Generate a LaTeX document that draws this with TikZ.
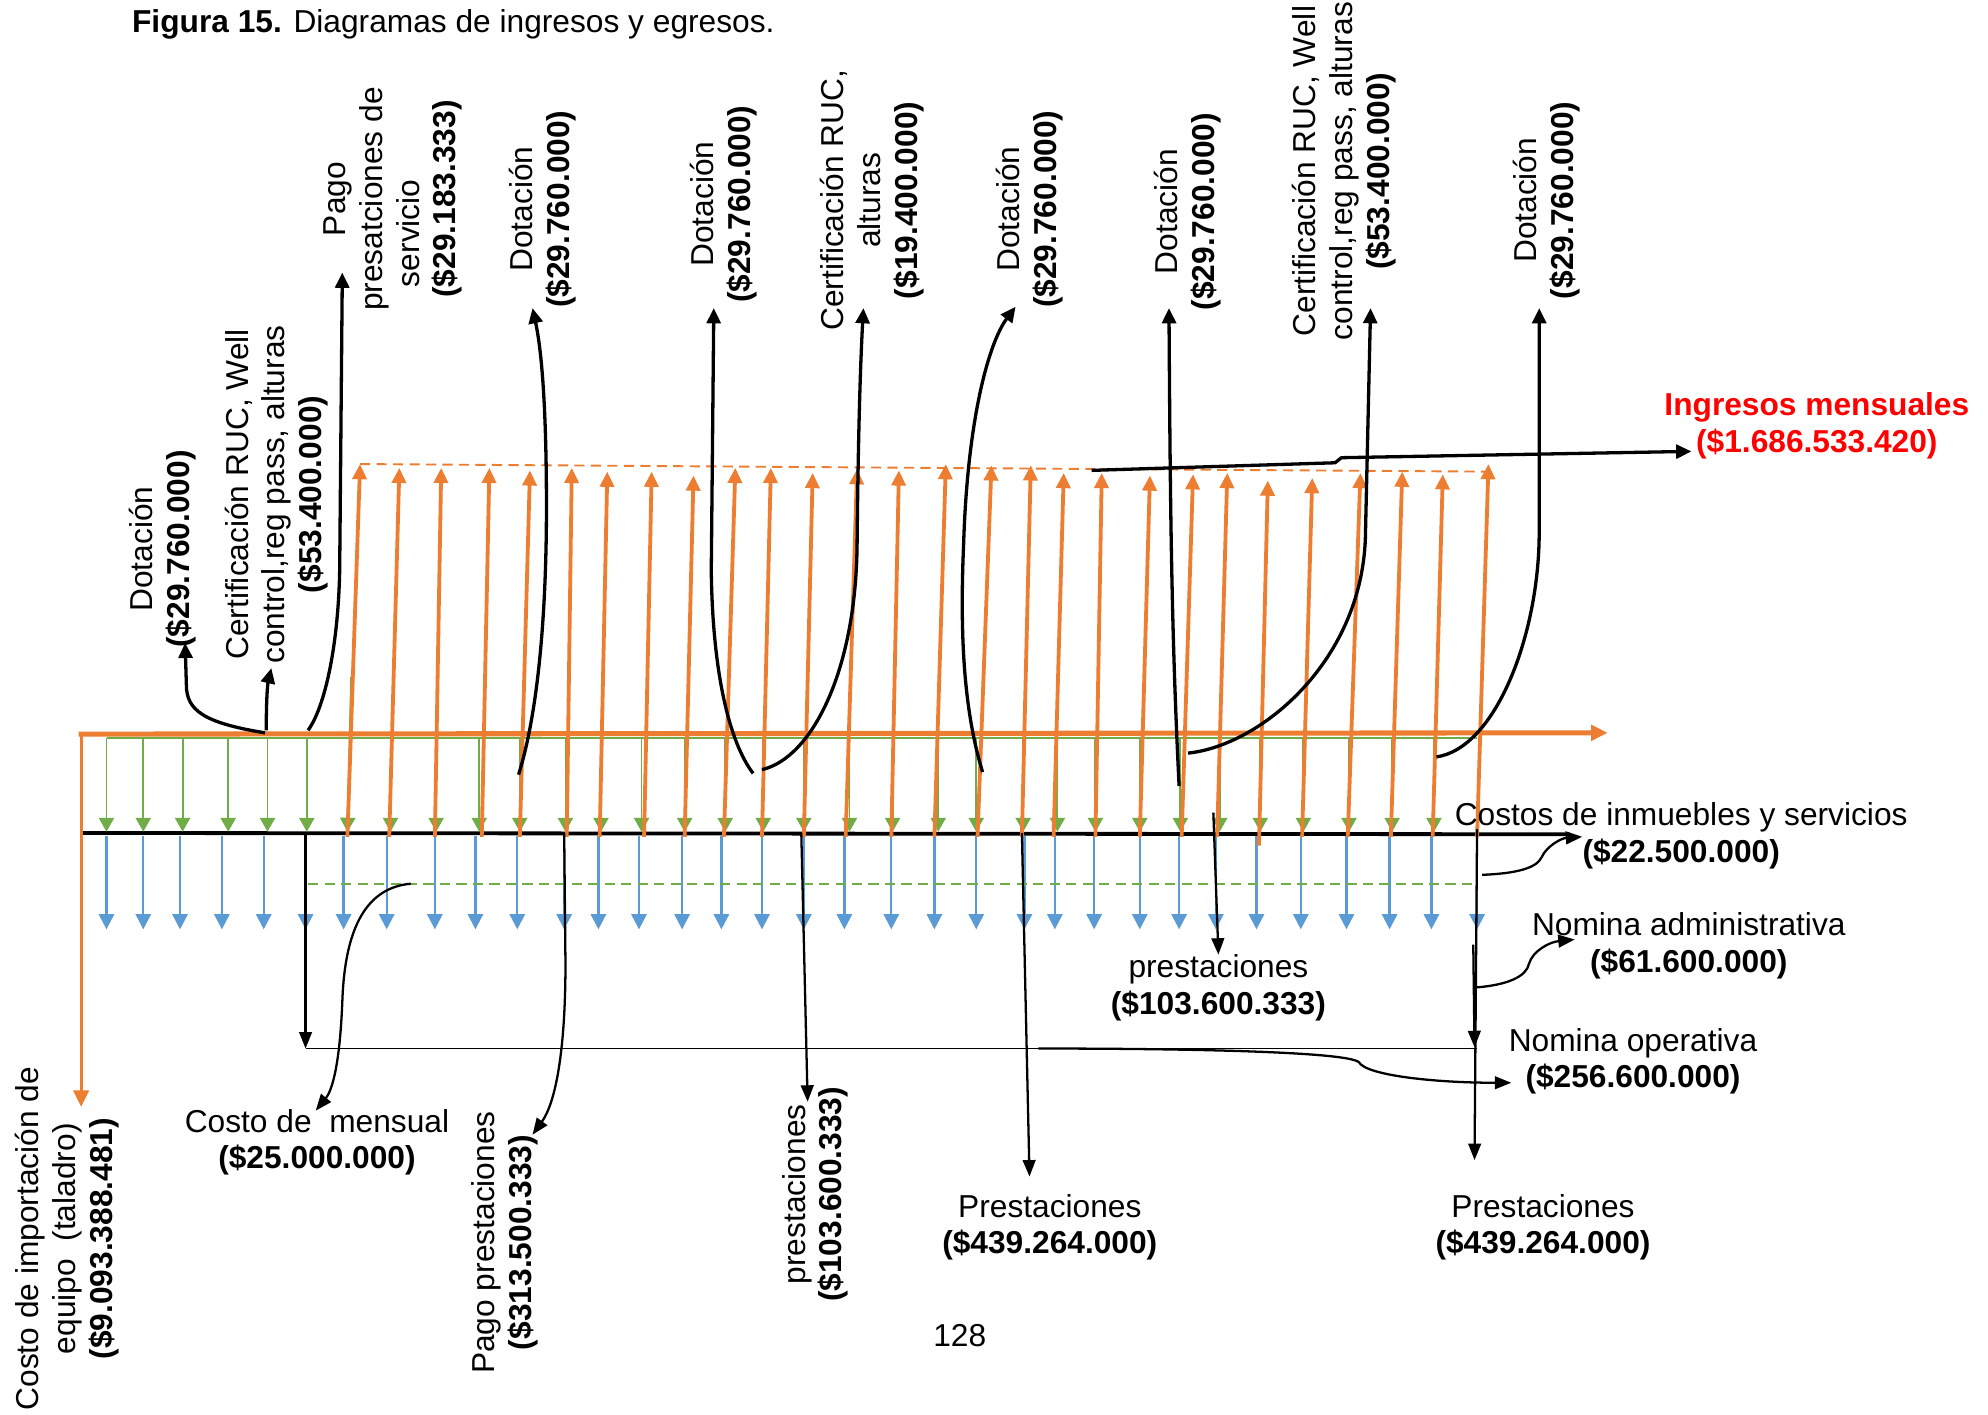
\documentclass[tikz,border=0pt]{standalone}
\usepackage{fontspec}
\setmainfont{Liberation Sans}
\usetikzlibrary{arrows.meta}
\definecolor{ora}{HTML}{ED7D31}
\definecolor{blu}{HTML}{5B9BD5}
\definecolor{grn}{HTML}{70AD47}
\begin{document}
\begin{tikzpicture}[x=1pt,y=-1pt,
  every node/.style={inner sep=0pt, font=\fontsize{25}{29}\selectfont, align=center},
  vlab/.style={rotate=90},
  oarr/.style={ora, line width=3pt, -{Triangle[width=11pt,length=12pt]}},
  barr/.style={blu, line width=1.8pt, -{Triangle[width=12pt,length=12pt]}},
  garr/.style={grn, line width=1.5pt, -{Triangle[width=12pt,length=11pt]}},
  karr/.style={black, line width=2.6pt, -{Triangle[width=11pt,length=12pt]}},
  tarr/.style={black, line width=1.8pt, -{Triangle[width=10pt,length=13pt]}},
]
\useasboundingbox[fill=white] (0,0) rectangle (1568,1116);

% ---------- axes ----------
\draw[black, line width=3pt] (64,657) -- (1238,658);
\draw[grn, line width=1.5pt] (84,582) -- (1165,582);
\foreach \x in {84,113,142,175,208,241,271,305,343,375,408,445,472,504,538,569,601,634,666,703,737,770,808,832,863,899,930,959,991,1026,1062,1096,1129,1165}
  \draw[barr] (\x,659) -- (\x,733);
\foreach \x in {84,113,144,180,211,242,308,344,378,410,446,474,506,540,572,602,634,670,704,740,770,807,834,864,899,931,962,994,1028,1064,1098,1131}
  \draw[garr] (\x,582) -- (\x,656);
\draw[garr] (277,534) -- (274,656);
\foreach \a/\b/\t/\s in {274/284/366/660,307/315/369/660,343/348/369/660,380/386/369/660,410/418/371/660,447/451/369/660,473/479/372/660,508/514/372/660,540/547/375/660,571/580/369/660,601/608/369/660,634/641/373/660,667/676/370/660,703/709/371/660,737/746/366/660,771/782/367/660,806/813/367/660,831/839/373/660,864/869/373/660,899/907/375/660,932/941/374/660,960/968/373/660,993/1000/379/667,1027/1035/377/660,1063/1073/373/660,1097/1106/372/660,1130/1138/374/660,1165/1174/366/660}
  \draw[oarr] (\a,\s) -- (\b,\t);
\draw[ora, line width=4pt, -{Triangle[width=12pt,length=13pt]}] (62,579) -- (1268,578);
\draw[ora, line width=2.5pt, -{Triangle[width=12pt,length=13pt]}] (64,577) -- (64,873);
\draw[ora, line width=1.5pt, dash pattern=on 8pt off 5pt] (284,366) -- (1174,372);
\draw[grn, line width=1.5pt, dash pattern=on 8pt off 5pt] (243,697) -- (1165,697);
\draw[black, line width=1.5pt] (241,827) -- (1165,827);

% ---------- labels (top, rotated) ----------
\node[vlab] (r1) at (128,433) {Dotación\\\textbf{(\$29.760.000)}};
\node[vlab] (r2) at (218,390) {Certificación RUC, Well\\control,reg pass, alturas\\\textbf{(\$53.400.000)}};
\node[vlab] (r3) at (310,157) {Pago\\presatciones de\\servicio\kern54pt\\\textbf{(\$29.183.333)}};
\node[vlab] (r4) at (428,165) {Dotación\\\textbf{(\$29.760.000)}};
\node[vlab] (r5) at (571,161) {Dotación\\\textbf{(\$29.760.000)}};
\node[vlab] (r6) at (688,158) {Certificación RUC,\\alturas\\\textbf{(\$19.400.000)}};
\node[vlab] (r7) at (812,165) {Dotación\\\textbf{(\$29.760.000)}};
\node[vlab] (r8) at (937,167) {Dotación\\\textbf{(\$29.760.000)}};
\node[vlab] (r9) at (1060,135) {Certificación RUC, Well\\control,reg pass, alturas\\\textbf{(\$53.400.000)}};
\node[vlab] (r10) at (1220,158) {Dotación\\\textbf{(\$29.760.000)}};
\node[text=red, font=\fontsize{25}{29}\selectfont\bfseries] (ing) at (1433,336) {Ingresos mensuales\\(\$1.686.533.420)};

% ---------- labels (bottom) ----------
\node (cim) at (1326,659) {Costos de inmuebles y servicios\\\textbf{(\$22.500.000)}};
\node (nad) at (1332,746) {Nomina administrativa\\\textbf{(\$61.600.000)}};
\node (nop) at (1288,837) {Nomina operativa\\\textbf{(\$256.600.000)}};
\node (pm) at (961,779) {prestaciones\\\textbf{(\$103.600.333)}};
\node (pl) at (828,968) {Prestaciones\\\textbf{(\$439.264.000)}};
\node (pr) at (1217,968) {Prestaciones\\\textbf{(\$439.264.000)}};
\node (cm) at (250,901) {Costo de\ \ mensual\\\textbf{(\$25.000.000)}};
\node[vlab] (ci) at (53,977) {Costo de importación de\\equipo\ \ (taladro)\\\textbf{(\$9.093.388.481)}};
\node[vlab] (pp) at (398,980) {Pago prestaciones\\\textbf{(\$313.500.333)}};
\node[vlab] (pv) at (643,942) {prestaciones\\\textbf{(\$103.600.333)}};
\node[anchor=base west] (title) at (104,26) {\textbf{Figura 15.} Diagramas de ingresos y egresos.};
\node[anchor=base] (pg) at (757,1062) {128};

% ---------- connector end points ----------
\coordinate (s1) at (209,578);  \coordinate (e1) at (146,507);
\coordinate (s2) at (210,576);  \coordinate (e2) at (214,527);
\coordinate (s3) at (243,576);  \coordinate (e3) at (270,215);
\coordinate (s4) at (409,611);  \coordinate (e4) at (420,243);
\coordinate (s5) at (594,610);  \coordinate (e5) at (563,243);
\coordinate (s6) at (601,607);  \coordinate (e6) at (681,243);
\coordinate (s7) at (775,609);  \coordinate (e7) at (801,242);
\coordinate (s8) at (930,620);  \coordinate (e8) at (922,243);
\coordinate (s9) at (937,594);  \coordinate (e9) at (1081,243);
\coordinate (s10) at (1133,597); \coordinate (e10) at (1214,243);
\coordinate (si) at (861,371);  \coordinate (ei) at (1334,356);

\coordinate (sc) at (324,697);  \coordinate (ec) at (249,876);
\coordinate (sp) at (445,657);  \coordinate (ep) at (420,895);
\coordinate (sv) at (632,657);  \coordinate (ev) at (637,869);
\coordinate (sl) at (806,657);  \coordinate (el) at (812,928);
\coordinate (sm) at (957,641);  \coordinate (em) at (961,753);
\coordinate (sa) at (241,657);  \coordinate (ea) at (241,827);
\coordinate (sr) at (1165,654); \coordinate (er) at (1163,915);
\coordinate (sr2) at (1162,745); \coordinate (er2) at (1163,826);
\coordinate (scim) at (1169,690); \coordinate (ecim) at (1248,660);
\coordinate (snad) at (1162,779); \coordinate (enad) at (1242,741);
\coordinate (snop) at (819,827);  \coordinate (enop) at (1192,854);

% ---------- connectors (top) ----------
\draw[karr] (s1) .. controls (160,570) and (147,560) .. (147,540) -- (e1);
\draw[karr] (s2) .. controls (210,552) and (211,540) .. (e2);
\draw[karr] (s3) .. controls (258,555) and (268,500) .. (268,440) -- (e3);
\draw[karr] (s4) .. controls (425,560) and (431,480) .. (431,400) .. controls (431,330) and (428,280) .. (e4);
\draw[karr] (s5) .. controls (575,585) and (562,530) .. (561,450) -- (e5);
\draw[karr] (s6) .. controls (640,598) and (675,530) .. (676,430) .. controls (677,330) and (679,280) .. (e6);
\draw[karr] (s7) .. controls (760,560) and (757,500) .. (760,430) .. controls (763,330) and (780,270) .. (e7);
\draw[karr] (s8) .. controls (924,500) and (923,400) .. (e8);
\draw[karr] (s9) .. controls (995,588) and (1076,520) .. (1077,420) -- (e9);
\draw[karr] (s10) .. controls (1180,590) and (1214,500) .. (1214,420) -- (e10);
\draw[karr] (si) -- (1053,365) -- (1058,361) -- (ei);

% ---------- connectors (bottom) ----------
\draw[tarr] (sc) .. controls (290,700) and (272,730) .. (270,790) .. controls (268,840) and (262,860) .. (ec);
\draw[tarr] (sp) -- (446,760) .. controls (446,830) and (438,870) .. (ep);
\draw[tarr] (sv) -- (ev);
\draw[tarr] (sl) -- (el);
\draw[tarr] (sm) -- (em);
\draw[tarr] (sa) -- (ea);
\draw[tarr] (sr) -- (er);
\draw[tarr] (sr2) -- (er2);
\draw[tarr] (scim) .. controls (1195,689) and (1212,685) .. (1216,676) .. controls (1220,667) and (1232,661) .. (ecim);
\draw[tarr] (snad) .. controls (1190,777) and (1204,770) .. (1206,760) .. controls (1209,750) and (1222,743) .. (enad);
\draw[tarr] (snop) .. controls (950,827) and (1065,830) .. (1072,838) .. controls (1078,848) and (1130,854) .. (enop);
\end{tikzpicture}
\end{document}
